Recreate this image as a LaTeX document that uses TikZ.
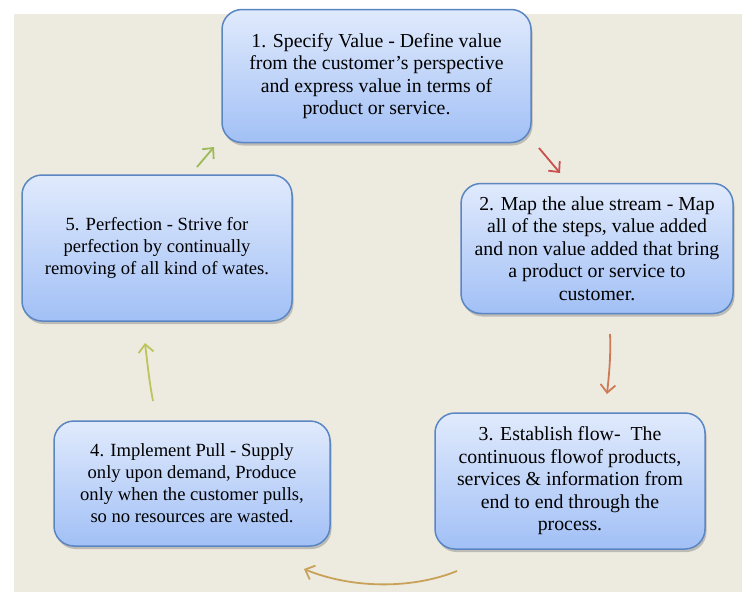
\documentclass[tikz,border=0pt]{standalone}
\usepackage{fontspec}
\setmainfont{Liberation Serif}
\usetikzlibrary{arrows.meta,shadows}
\definecolor{bgbeige}{HTML}{EDEAE0}
\definecolor{boxborder}{HTML}{5A86C2}
\definecolor{boxtop}{HTML}{E0EAFC}
\definecolor{boxbot}{HTML}{A2C0F6}
\definecolor{agreen}{HTML}{9BBB59}
\definecolor{ared}{HTML}{C9504D}
\definecolor{aorange}{HTML}{CF7A55}
\definecolor{aolive}{HTML}{BCC45A}
\definecolor{agold}{HTML}{C9A25A}
\tikzset{
  stepbox/.style={draw=boxborder, line width=1.5pt, rounded corners=20pt,
    top color=boxtop, bottom color=boxbot, align=center,
    font=\fontsize{19.8}{22.5}\selectfont,
    drop shadow={shadow xshift=1.5pt, shadow yshift=-3pt, opacity=0.35, fill=black!60},
    inner sep=0pt},
  smalltext/.style={font=\fontsize{18.6}{22}\selectfont},
  cyc/.style={line width=1.8pt, -{Straight Barb[length=8pt,width=15pt,line width=1.8pt]}}
}
\begin{document}
\begin{tikzpicture}[x=1pt,y=-1pt]
\useasboundingbox (0,0) rectangle (742,592);
\fill[white] (0,0) rectangle (742,592);
\fill[bgbeige] (14,14) rectangle (742,592);
% boxes
\node[stepbox, minimum width=309pt, minimum height=133pt] (b1) at (376.5,76) {1. Specify Value - Define value\\from the customer's perspective\\and express value in terms of\\product or service.};
\node[stepbox, minimum width=272pt, minimum height=130pt] (b2) at (597,248.5) {2. Map the alue stream - Map\\all of the steps, value added\\and non value added that bring\\a product or service to\\customer.};
\node[stepbox, minimum width=270pt, minimum height=136pt] (b3) at (570,481) {3. Establish flow-\ \ The\\continuous flowof products,\\services \& information from\\end to end through the\\process.};
\node[stepbox, smalltext, minimum width=276pt, minimum height=125pt] (b4) at (192,483.5) {4. Implement Pull - Supply\\only upon demand, Produce\\only when the customer pulls,\\so no resources are wasted.};
\node[stepbox, smalltext, minimum width=270pt, minimum height=146pt] (b5) at (157,248) {5. Perfection - Strive for\\perfection by continually\\removing of all kind of wates.};
% arrow endpoints
\coordinate (a1s) at (539,148); \coordinate (a1e) at (560,173);
\coordinate (a2s) at (610,334); \coordinate (a2e) at (607,394);
\coordinate (a3s) at (457,571); \coordinate (a3e) at (304,569);
\coordinate (a4s) at (153,401); \coordinate (a4e) at (145,343);
\coordinate (a5s) at (197,167); \coordinate (a5e) at (214,147);
\draw[cyc, ared] (a1s) -- (a1e);
\draw[cyc, aorange] (a2s) .. controls (611,355) and (609,375) .. (a2e);
\draw[cyc, agold] (a3s) .. controls (410,590) and (350,588) .. (a3e);
\draw[cyc, aolive] (a4s) .. controls (149,380) and (147,360) .. (a4e);
\draw[cyc, agreen] (a5s) -- (a5e);
\end{tikzpicture}
\end{document}
